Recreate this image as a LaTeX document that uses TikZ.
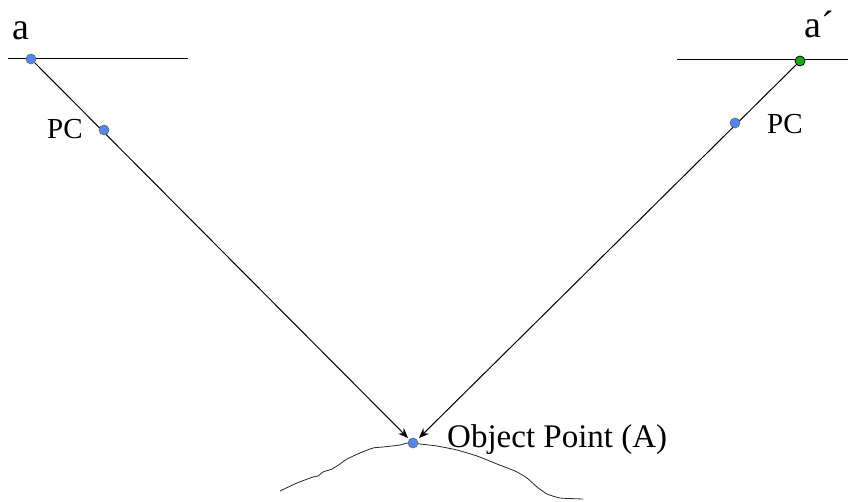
\documentclass[tikz,border=0pt]{standalone}
\usepackage{fontspec}
\setmainfont{Liberation Serif}
\usetikzlibrary{arrows.meta}
\definecolor{dotblue}{RGB}{85,135,235}
\definecolor{dotgreen}{RGB}{20,170,20}
\tikzset{
  ray/.style={line width=1pt, draw=black},
  arrowray/.style={ray, -{Stealth[length=10pt,width=8pt]}},
  bluedot/.style={circle, draw=black!60, line width=0.6pt, fill=dotblue, minimum size=10pt, inner sep=0pt},
  greendot/.style={circle, draw=black, line width=0.8pt, fill=dotgreen, minimum size=10pt, inner sep=0pt},
  biglabel/.style={inner sep=0pt, font=\fontsize{38}{40}\selectfont},
  pclabel/.style={inner sep=0pt, font=\fontsize{29}{31}\selectfont},
  objlabel/.style={inner sep=0pt, font=\fontsize{33}{35}\selectfont},
}
\begin{document}
\begin{tikzpicture}[x=1pt, y=-1pt]
\useasboundingbox (0,0) rectangle (848,502);
% coordinates
\coordinate (a) at (31,59);
\coordinate (pcL) at (104,130);
\coordinate (ap) at (800,61);
\coordinate (pcR) at (735,123);
\coordinate (A) at (413,443);
\coordinate (tipL) at (408,438);
\coordinate (tipR) at (419,438);
\coordinate (hLs) at (8,59);
\coordinate (hLe) at (188,59);
\coordinate (hRs) at (677,60);
\coordinate (hRe) at (848,60);
% image planes
\draw[ray] (hLs) -- (hLe);
\draw[ray] (hRs) -- (hRe);
% rays
\draw[arrowray] (a) -- (tipL);
\draw[arrowray] (ap) -- (tipR);
% terrain
\draw[line width=0.8pt, draw=black!85] plot[smooth, tension=0.3] coordinates {
(280,491) (297,483) (313,477) (318,476) (323,472) (332,469) (340,464) (347,459) (360,453)
(373,448) (383,447) (392,446) (400,445) (408,443) (420,444) (437,446) (457,450)
(477,456) (497,464) (510,469) (517,472) (527,478) (537,487) (547,494) (560,498) (583,499)};
% dots
\node[bluedot] (adot) at (a) {};
\node[bluedot] (pcLdot) at (pcL) {};
\node[greendot] (apdot) at (ap) {};
\node[bluedot] (pcRdot) at (pcR) {};
\node[bluedot] (Adot) at (A) {};
% labels
\node[biglabel, anchor=base west] (alab) at (12,40) {a};
\node[biglabel, anchor=base west] (aplab) at (804,38) {a´};
\node[pclabel, anchor=base west] (pcLlab) at (47,139) {PC};
\node[pclabel, anchor=base west] (pcRlab) at (767,134) {PC};
\node[objlabel, anchor=base west] (objlab) at (447,447) {Object Point (A)};
\end{tikzpicture}
\end{document}
